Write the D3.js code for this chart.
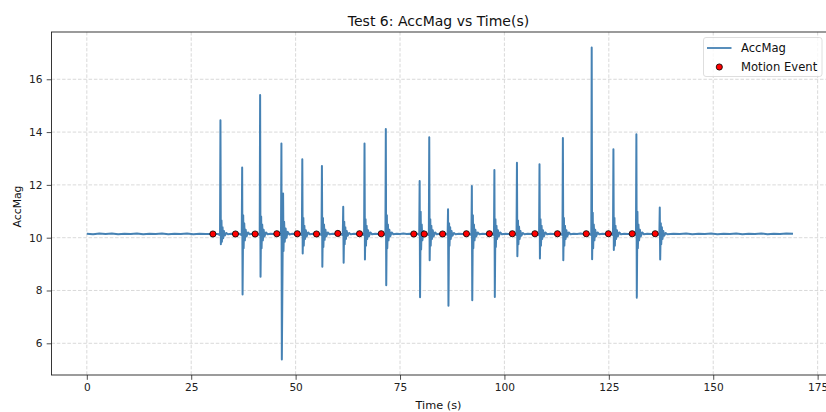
<!DOCTYPE html>
<html>
<head>
<meta charset="utf-8">
<script src="https://cdn.jsdelivr.net/npm/d3@7"></script>
<style>
  html, body { margin: 0; padding: 0; background: #fff; }
  svg { display: block; font-family: "DejaVu Sans", sans-serif; }
</style>
</head>
<body>
<svg id="chart" width="826" height="412"></svg>
<script>
// Accelerometer magnitude samples (seconds, m/s²)
const time = [
  0, 1.5, 3, 4.5, 6, 7.5, 9, 10.5, 12, 13.5, 15, 16.5, 18, 19.5, 21, 22.5, 24, 25.5, 27, 28.5, 30.2,
  31.4, 31.9, 32.0, 32.1, 32.25, 32.35, 32.5, 32.65, 32.85, 33.05, 33.4, 33.8, 34.6, 35.4, 36.2,
  36.6, 37.1, 37.2, 37.3, 37.45, 37.55, 37.7, 37.85, 38.05, 38.25, 38.6, 39.0, 39.6, 40.3,
  40.9, 41.4, 41.5, 41.6, 41.75, 41.85, 42.0, 42.15, 42.35, 42.55, 42.9, 43.3, 44.0, 44.8, 45.5,
  46.1, 46.5, 46.6, 46.7, 47.0, 47.1, 47.25, 47.4, 47.6, 47.8, 48.1, 48.5, 49.2, 49.8, 50.4,
  51.0, 51.5, 51.6, 51.7, 51.85, 51.95, 52.1, 52.25, 52.45, 52.65, 53.0, 53.4, 54.2, 55.0,
  55.7, 56.2, 56.3, 56.4, 56.55, 56.65, 56.8, 56.95, 57.15, 57.35, 57.7, 58.1, 58.9, 59.5, 60.1,
  60.8, 61.3, 61.4, 61.5, 61.65, 61.75, 61.9, 62.05, 62.25, 62.45, 62.8, 63.2, 64.0, 64.7, 65.3,
  65.9, 66.4, 66.5, 66.6, 66.75, 66.85, 67.0, 67.15, 67.35, 67.55, 67.9, 68.3, 69.1, 69.8, 70.5,
  71.1, 71.5, 71.6, 71.7, 71.85, 71.95, 72.1, 72.25, 72.45, 72.65, 73.0, 73.4, 74.2, 75.0, 75.8, 76.6, 77.4, 78.3,
  79.2, 79.6, 79.7, 79.8, 79.95, 80.05, 80.2, 80.35, 80.6, 80.8,
  81.5, 81.9, 82.0, 82.1, 82.25, 82.35, 82.5, 82.65, 82.85, 83.05, 83.4, 83.8, 84.5, 85.2,
  86.0, 86.4, 86.5, 86.6, 86.75, 86.85, 87.0, 87.15, 87.35, 87.55, 87.9, 88.3, 89.1, 90.0, 90.9,
  91.7, 92.1, 92.2, 92.3, 92.45, 92.55, 92.7, 92.85, 93.05, 93.25, 93.6, 94.0, 94.8, 95.6, 96.4,
  97.1, 97.5, 97.6, 97.7, 97.85, 97.95, 98.1, 98.25, 98.45, 98.65, 99.0, 99.4, 100.2, 101.0, 101.9,
  102.5, 102.9, 103.0, 103.1, 103.25, 103.35, 103.5, 103.65, 103.85, 104.05, 104.4, 104.8, 105.6, 106.4, 107.3,
  107.9, 108.3, 108.4, 108.5, 108.65, 108.75, 108.9, 109.05, 109.25, 109.45, 109.8, 110.2, 111.0, 111.8, 112.7,
  113.5, 113.9, 114.0, 114.1, 114.25, 114.35, 114.5, 114.65, 114.85, 115.05, 115.4, 115.8, 116.6, 117.4, 118.2, 119.0, 119.6,
  120.4, 120.8, 120.9, 121.0, 121.15, 121.25, 121.4, 121.55, 121.75, 121.95, 122.3, 122.7, 123.5, 124.2, 124.9,
  125.6, 126.0, 126.1, 126.2, 126.35, 126.45, 126.6, 126.75, 126.95, 127.15, 127.5, 127.9, 128.7, 129.6, 130.6,
  131.1, 131.5, 131.6, 131.7, 131.85, 131.95, 132.1, 132.25, 132.45, 132.65, 133.0, 133.4, 134.2, 135.1, 136.1,
  136.7, 137.1, 137.2, 137.3, 137.45, 137.55, 137.7, 137.85, 138.05, 138.25, 138.6, 139.0,
  140.5, 142, 143.5, 145, 146.5, 148, 149.5, 151, 152.5, 154, 155.5, 157, 158.5, 160, 161.5, 163, 164.5, 166, 167.5, 169.1
];
const accMag = [
  10.15, 10.13, 10.16, 10.14, 10.16, 10.13, 10.15, 10.14, 10.16, 10.13, 10.15, 10.14, 10.16, 10.13, 10.15, 10.14, 10.16, 10.13, 10.15, 10.14, 10.14,
  10.14, 10.10, 14.45, 9.75, 10.65, 9.85, 10.40, 9.98, 10.25, 10.08, 10.18, 10.13, 10.15, 10.14, 10.16,
  10.14, 10.10, 12.66, 7.85, 10.85, 9.60, 10.55, 9.90, 10.30, 10.05, 10.20, 10.13, 10.15, 10.14,
  10.15, 10.10, 15.40, 8.52, 10.80, 9.60, 10.50, 9.90, 10.30, 10.05, 10.20, 10.13, 10.15, 10.14, 10.15,
  10.14, 10.10, 13.57, 5.39, 11.67, 9.50, 10.60, 9.85, 10.35, 10.00, 10.22, 10.12, 10.15, 10.14, 10.15,
  10.14, 10.10, 12.97, 9.40, 10.75, 9.70, 10.45, 9.95, 10.28, 10.05, 10.20, 10.13, 10.15, 10.14,
  10.15, 10.10, 12.72, 8.90, 10.75, 9.65, 10.50, 9.92, 10.30, 10.05, 10.20, 10.13, 10.15, 10.14, 10.16,
  10.14, 10.10, 11.17, 9.05, 10.60, 9.75, 10.40, 9.95, 10.25, 10.07, 10.18, 10.13, 10.15, 10.14, 10.15,
  10.14, 10.10, 13.57, 9.17, 10.70, 9.70, 10.45, 9.95, 10.28, 10.05, 10.20, 10.13, 10.15, 10.14, 10.15,
  10.14, 10.10, 14.12, 8.20, 10.85, 9.60, 10.50, 9.90, 10.30, 10.05, 10.20, 10.13, 10.15, 10.14, 10.16, 10.14, 10.15, 10.14,
  10.15, 10.10, 12.15, 7.74, 10.98, 9.55, 10.50, 9.90, 10.25, 10.14,
  10.13, 10.10, 13.80, 9.15, 10.70, 9.70, 10.45, 9.95, 10.28, 10.05, 10.20, 10.13, 10.15, 10.14,
  10.15, 10.10, 11.08, 7.42, 10.55, 9.70, 10.40, 9.95, 10.25, 10.07, 10.18, 10.13, 10.15, 10.14, 10.15,
  10.14, 10.10, 11.96, 7.63, 10.85, 9.60, 10.50, 9.90, 10.30, 10.05, 10.20, 10.13, 10.15, 10.14, 10.15,
  10.14, 10.10, 12.56, 7.75, 10.70, 9.65, 10.45, 9.95, 10.28, 10.05, 10.20, 10.13, 10.15, 10.14, 10.15,
  10.14, 10.10, 12.84, 9.30, 10.65, 9.75, 10.42, 9.95, 10.25, 10.07, 10.18, 10.13, 10.15, 10.14, 10.15,
  10.14, 10.10, 12.78, 9.21, 10.70, 9.70, 10.45, 9.95, 10.28, 10.05, 10.20, 10.13, 10.15, 10.14, 10.15,
  10.14, 10.10, 13.78, 9.15, 10.75, 9.70, 10.45, 9.95, 10.28, 10.05, 10.20, 10.13, 10.15, 10.14, 10.16, 10.14, 10.15,
  10.14, 10.10, 17.20, 9.18, 10.94, 9.60, 10.50, 9.90, 10.30, 10.05, 10.20, 10.13, 10.15, 10.14, 10.15,
  10.14, 10.10, 13.35, 9.53, 10.75, 9.70, 10.45, 9.95, 10.28, 10.05, 10.20, 10.13, 10.15, 10.14, 10.15,
  10.14, 10.10, 13.92, 7.73, 10.98, 9.60, 10.50, 9.90, 10.30, 10.05, 10.20, 10.13, 10.15, 10.14, 10.15,
  10.14, 10.10, 11.14, 9.17, 10.55, 9.75, 10.40, 9.95, 10.25, 10.07, 10.18, 10.13,
  10.15, 10.14, 10.16, 10.13, 10.15, 10.14, 10.16, 10.13, 10.15, 10.14, 10.16, 10.13, 10.15, 10.14, 10.16, 10.13, 10.15, 10.14, 10.16, 10.15
];

// Detected motion events
const eventTime = [30.2, 35.6, 40.3, 45.5, 50.4, 55.0, 60.1, 65.3, 70.5, 78.3, 80.8,
                   85.2, 90.9, 96.4, 101.9, 107.3, 112.7, 119.6, 124.9, 130.6, 136.1];
const eventMag = [10.14, 10.14, 10.14, 10.15, 10.15, 10.14, 10.16, 10.15, 10.15, 10.14, 10.14,
                  10.14, 10.15, 10.15, 10.15, 10.15, 10.15, 10.15, 10.15, 10.15, 10.15];

const xTicks = [0, 25, 50, 75, 100, 125, 150, 175];
const yTicks = [6, 8, 10, 12, 14, 16];

const titleText = "Test 6: AccMag vs Time(s)";
const xLabel = "Time (s)";
const yLabel = "AccMag";
const legendLabels = ["AccMag", "Motion Event"];

const svg = d3.select("#chart");
const plot = { left: 51.5, top: 32, right: 828.3, bottom: 375 };

// 5% padding around the data extent on both axes
const [xMin, xMax] = d3.extent(time);
const xPad = (xMax - xMin) * 0.05;
const [yMin, yMax] = d3.extent(accMag);
const yPad = (yMax - yMin) * 0.05;

const x = d3.scaleLinear().domain([xMin - xPad, xMax + xPad]).range([plot.left, plot.right]);
const y = d3.scaleLinear().domain([yMin - yPad, yMax + yPad]).range([plot.bottom, plot.top]);

const clipId = "plot-clip";
svg.append("clipPath").attr("id", clipId)
  .append("rect")
  .attr("x", plot.left).attr("y", plot.top)
  .attr("width", plot.right - plot.left).attr("height", plot.bottom - plot.top);

// Grid
const grid = svg.append("g").attr("stroke", "#cfcfcf").attr("stroke-width", 0.8)
  .attr("stroke-dasharray", "3.5,1.8");
grid.selectAll(".gx").data(xTicks).join("line")
  .attr("x1", d => x(d)).attr("x2", d => x(d))
  .attr("y1", plot.top).attr("y2", plot.bottom);
grid.selectAll(".gy").data(yTicks).join("line")
  .attr("x1", plot.left).attr("x2", plot.right)
  .attr("y1", d => y(d)).attr("y2", d => y(d));

// Signal line
const series = time.map((t, i) => [t, accMag[i]]);
svg.append("path")
  .datum(series)
  .attr("clip-path", `url(#${clipId})`)
  .attr("fill", "none")
  .attr("stroke", "#4682b4")
  .attr("stroke-width", 2)
  .attr("stroke-linejoin", "round")
  .attr("d", d3.line().x(d => x(d[0])).y(d => y(d[1])));

// Event markers
svg.append("g").selectAll("circle")
  .data(eventTime.map((t, i) => [t, eventMag[i]]))
  .join("circle")
  .attr("cx", d => x(d[0])).attr("cy", d => y(d[1]))
  .attr("r", 3.1)
  .attr("fill", "#ff0000")
  .attr("stroke", "#000")
  .attr("stroke-width", 0.8);

// Axes
const xAxis = d3.axisBottom(x).tickValues(xTicks).tickSize(4.8).tickPadding(3.6);
const yAxis = d3.axisLeft(y).tickValues(yTicks).tickSize(4.8).tickPadding(4.2);

const gx = svg.append("g").attr("transform", `translate(0,${plot.bottom})`).call(xAxis);
const gy = svg.append("g").attr("transform", `translate(${plot.left},0)`).call(yAxis);
[gx, gy].forEach(g => {
  g.select(".domain").remove();
  g.selectAll("line").attr("stroke", "#222").attr("stroke-width", 0.8);
  g.selectAll("text").attr("fill", "#222").attr("font-size", 10.6)
    .attr("font-family", "DejaVu Sans, sans-serif");
});

// Frame
svg.append("rect")
  .attr("x", plot.left).attr("y", plot.top)
  .attr("width", plot.right - plot.left).attr("height", plot.bottom - plot.top)
  .attr("fill", "none").attr("stroke", "#222").attr("stroke-width", 0.9);

// Title and axis labels
svg.append("text")
  .attr("x", 438.5).attr("y", 26)
  .attr("text-anchor", "middle").attr("font-size", 14).attr("fill", "#111")
  .text(titleText);
svg.append("text")
  .attr("x", 438.5).attr("y", 409)
  .attr("text-anchor", "middle").attr("font-size", 11.3).attr("fill", "#111")
  .text(xLabel);
svg.append("text")
  .attr("transform", `translate(20.5,${(plot.top + plot.bottom) / 2 + 3}) rotate(-90)`)
  .attr("text-anchor", "middle").attr("font-size", 10.8).attr("fill", "#111")
  .text(yLabel);

// Legend
const legend = svg.append("g").attr("transform", "translate(703.5,37.5)");
legend.append("rect")
  .attr("width", 118.5).attr("height", 39).attr("rx", 2.5)
  .attr("fill", "#fff").attr("fill-opacity", 0.8)
  .attr("stroke", "#d6d6d6").attr("stroke-width", 0.8);
legend.append("line")
  .attr("x1", 3.5).attr("x2", 28).attr("y1", 10.5).attr("y2", 10.5)
  .attr("stroke", "#4682b4").attr("stroke-width", 1.8);
legend.append("circle")
  .attr("cx", 15.8).attr("cy", 29.5).attr("r", 3.1)
  .attr("fill", "#ff0000").attr("stroke", "#000").attr("stroke-width", 0.8);
legend.selectAll("text.lbl").data(legendLabels).join("text")
  .attr("x", 37.5).attr("y", (d, i) => 14.6 + i * 19)
  .attr("font-size", 11.6).attr("fill", "#111")
  .text(d => d);
</script>
</body>
</html>
